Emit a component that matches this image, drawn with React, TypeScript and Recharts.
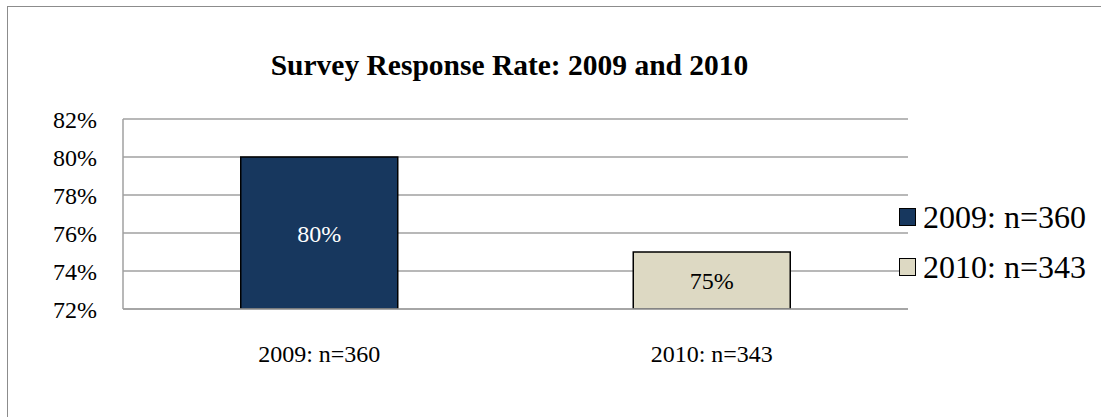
import { BarChart, Bar, XAxis, YAxis, CartesianGrid, Cell, LabelList } from "recharts";

const categories = ["2009: n=360", "2010: n=343"];
const rates = [80, 75];
const barColors = ["#17375E", "#DDD9C3"];
const labelColors = ["#FFFFFF", "#000000"];
const yTicks = [72, 74, 76, 78, 80, 82];

const data = categories.map((name, i) => ({ name, rate: rates[i] }));

const font = "'Liberation Serif', 'Times New Roman', serif";

function BarValue(props: any) {
  const { x, y, width, height, index, value } = props;
  return (
    <text
      x={x + width / 2}
      y={y + height / 2}
      dy="0.355em"
      textAnchor="middle"
      fontFamily={font}
      fontSize={24}
      fill={labelColors[index]}
    >
      {value}%
    </text>
  );
}

export default function App() {
  return (
    <div style={{ position: "absolute", left: 0, top: 0, width: 1101, height: 417, overflow: "hidden", background: "#fff", fontFamily: font }}>
      <div style={{ position: "absolute", left: 7, top: 6, width: 1120, height: 440, border: "1.5px solid #8C8C8C" }} />
      <div style={{ position: "absolute", left: 117, width: 785, top: 49, textAlign: "center", fontWeight: "bold", fontSize: 29.5, color: "#000", fontFamily: font }}>
        Survey Response Rate: 2009 and 2010
      </div>
      <div style={{ position: "absolute", left: 0, top: 0 }}>
        <BarChart width={1101} height={417} data={data} margin={{ top: 119, right: 193, bottom: 78, left: 63 }} barCategoryGap="30%">
          <CartesianGrid horizontal vertical={false} stroke="#A0A0A0" strokeWidth={1.5} />
          <XAxis
            dataKey="name"
            axisLine={{ stroke: "#A0A0A0", strokeWidth: 1.5 }}
            tickLine={false}
            tickSize={0}
            tickMargin={36}
            height={30}
            tick={{ fontSize: 24, fill: "#000", fontFamily: font }}
          />
          <YAxis
            domain={[72, 82]}
            ticks={yTicks}
            allowDataOverflow
            axisLine={{ stroke: "#A0A0A0", strokeWidth: 1.5 }}
            tickLine={false}
            tickSize={0}
            tickMargin={26}
            width={60}
            tick={{ fontSize: 24, fill: "#000", fontFamily: font }}
            tickFormatter={(v) => `${v}%`}
          />
          <Bar dataKey="rate" stroke="#000" strokeWidth={1.5} isAnimationActive={false}>
            {data.map((d, i) => (
              <Cell key={d.name} fill={barColors[i]} />
            ))}
            <LabelList dataKey="rate" content={BarValue} />
          </Bar>
        </BarChart>
      </div>
      {categories.map((name, i) => (
        <div key={name} style={{ position: "absolute", left: 899, top: 200 + i * 50, height: 34, display: "flex", alignItems: "center" }}>
          <span style={{ display: "inline-block", width: 15, height: 16, background: barColors[i], border: "1px solid #000", marginRight: 7 }} />
          <span style={{ fontSize: 32, lineHeight: "34px", color: "#000" }}>{name}</span>
        </div>
      ))}
    </div>
  );
}
